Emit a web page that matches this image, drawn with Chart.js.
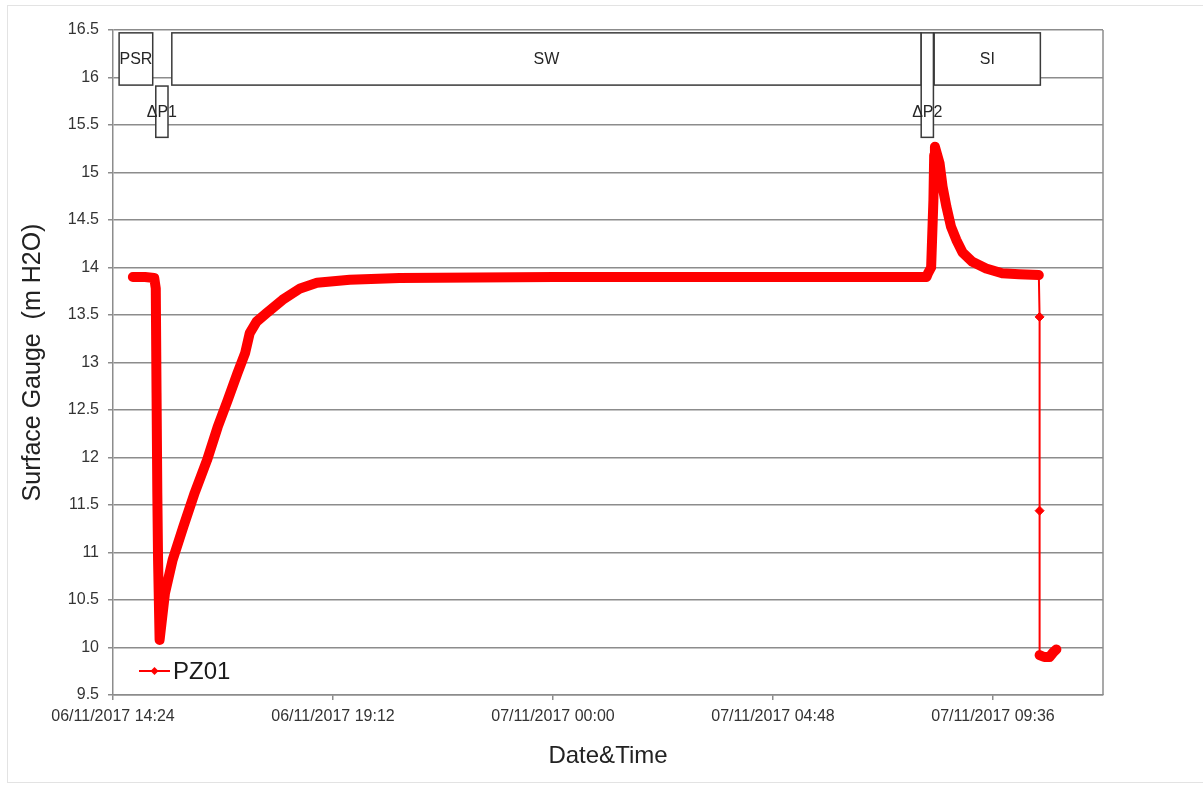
<!DOCTYPE html>
<html>
<head>
<meta charset="utf-8">
<title>PZ01 Surface Gauge</title>
<script src="https://cdn.jsdelivr.net/npm/chart.js@4.4.1/dist/chart.umd.min.js"></script>
<style>
    html, body { margin: 0; padding: 0; background: #fff; overflow: hidden; }
    #wrap { position: relative; width: 1203px; height: 785px; overflow: hidden; }
    #frame { position: absolute; left: 7px; top: 5px; right: -6px; bottom: 2px; border: 1px solid #e3e3e3; }
    #wrap canvas { position: relative; }
</style>
</head>
<body>
<div id="wrap">
    <div id="frame"></div>
    <canvas id="gaugeChart"></canvas>
</div>
<script>
// Lecturas del sensor PZ01
const times = [
    '06/11/2017 14:50', '06/11/2017 15:06', '06/11/2017 15:18', '06/11/2017 15:20',
    '06/11/2017 15:21', '06/11/2017 15:22', '06/11/2017 15:23', '06/11/2017 15:25',
    '06/11/2017 15:32', '06/11/2017 15:42', '06/11/2017 15:56', '06/11/2017 16:11',
    '06/11/2017 16:27', '06/11/2017 16:41', '06/11/2017 16:54', '06/11/2017 17:07',
    '06/11/2017 17:17', '06/11/2017 17:23', '06/11/2017 17:32', '06/11/2017 17:45',
    '06/11/2017 18:06', '06/11/2017 18:29', '06/11/2017 18:51', '06/11/2017 19:34',
    '06/11/2017 20:39', '07/11/2017 00:02', '07/11/2017 04:47', '07/11/2017 08:09',
    '07/11/2017 08:11', '07/11/2017 08:15', '07/11/2017 08:18', '07/11/2017 08:19',
    '07/11/2017 08:20', '07/11/2017 08:26', '07/11/2017 08:30', '07/11/2017 08:35',
    '07/11/2017 08:41', '07/11/2017 08:48', '07/11/2017 08:56', '07/11/2017 09:09',
    '07/11/2017 09:27', '07/11/2017 09:48', '07/11/2017 10:10', '07/11/2017 10:36',
    '07/11/2017 10:37', '07/11/2017 10:37', '07/11/2017 10:37', '07/11/2017 10:43',
    '07/11/2017 10:50', '07/11/2017 10:55', '07/11/2017 10:59'
];
const pz01 = [
    13.90, 13.90, 13.89, 13.78,
    12.68, 11.63, 10.92, 10.08,
    10.57, 10.92, 11.27, 11.63,
    11.97, 12.32, 12.60, 12.89,
    13.10, 13.31, 13.43, 13.52,
    13.66, 13.78, 13.84, 13.87,
    13.89, 13.90, 13.90, 13.90,
    13.94, 14.00, 14.71, 15.18,
    15.27, 15.10, 14.85, 14.64,
    14.43, 14.29, 14.16, 14.06,
    13.99, 13.94, 13.93, 13.92,
    13.48, 11.44, 9.92, 9.90,
    9.90, 9.95, 9.98
];

// Fases del ensayo (cajas superiores)
const phaseLabels = ['PSR', 'ΔP1', 'SW', 'ΔP2', 'SI'];
const phaseStart = ['06/11/2017 14:32', '06/11/2017 15:20', '06/11/2017 15:41', '07/11/2017 08:02', '07/11/2017 08:19'];
const phaseEnd = ['06/11/2017 15:16', '06/11/2017 15:36', '07/11/2017 08:02', '07/11/2017 08:18', '07/11/2017 10:38'];
const phaseTop = [16.47, 15.91, 16.47, 16.47, 16.47];
const phaseBottom = [15.92, 15.37, 15.92, 15.37, 15.92];

const yTicks = { min: 9.5, max: 16.5, step: 0.5 };
const xTicks = { min: '06/11/2017 14:24', max: '07/11/2017 12:00', step: 288 }; // 4h48

const FONT = "'Liberation Sans', Arial, sans-serif";
const THIN_FROM = 43;
const THIN_TO = 46;

function toMinutes(s) {
    const [d, t] = s.split(' ');
    const day = parseInt(d.split('/')[0], 10);
    const [h, m] = t.split(':').map(Number);
    return (day - 6) * 1440 + h * 60 + m;
}

function fmtTime(v) {
    const day = 6 + Math.floor(v / 1440);
    const rest = v - (day - 6) * 1440;
    const h = Math.floor(rest / 60);
    const m = Math.round(rest % 60);
    const p = n => String(n).padStart(2, '0');
    return p(day) + '/11/2017 ' + p(h) + ':' + p(m);
}

const points = times.map((t, i) => ({ x: toMinutes(t), y: pz01[i] }));

const phaseBoxes = {
    id: 'phaseBoxes',
    afterDatasetsDraw(chart) {
        const { ctx, scales: { x, y }, chartArea } = chart;
        ctx.save();
        // borde derecho del área
        ctx.strokeStyle = '#8c8c8c';
        ctx.lineWidth = 1.5;
        ctx.beginPath();
        ctx.moveTo(chartArea.right, chartArea.top);
        ctx.lineTo(chartArea.right, chartArea.bottom);
        ctx.stroke();

        const boxes = phaseLabels.map((label, i) => {
            const tall = phaseTop[i] - phaseBottom[i] > 0.8;
            return {
                label,
                x0: x.getPixelForValue(toMinutes(phaseStart[i])),
                x1: x.getPixelForValue(toMinutes(phaseEnd[i])),
                y0: y.getPixelForValue(phaseTop[i]),
                y1: y.getPixelForValue(phaseBottom[i]),
                // las cajas altas llevan la etiqueta en la fila inferior
                ty: y.getPixelForValue(tall ? (phaseBottom[i] + phaseBottom[0]) / 2 : (phaseTop[i] + phaseBottom[i]) / 2)
            };
        });
        boxes.forEach(b => {
            ctx.fillStyle = '#fff';
            ctx.fillRect(b.x0, b.y0, b.x1 - b.x0, b.y1 - b.y0);
            ctx.strokeStyle = '#3a3a3a';
            ctx.lineWidth = 1.5;
            ctx.strokeRect(b.x0, b.y0, b.x1 - b.x0, b.y1 - b.y0);
        });
        ctx.font = '16px ' + FONT;
        ctx.textAlign = 'center';
        ctx.textBaseline = 'middle';
        ctx.fillStyle = '#262626';
        boxes.forEach(b => ctx.fillText(b.label, (b.x0 + b.x1) / 2, b.ty + 1));

        // leyenda dentro del gráfico
        const lx = chartArea.left + 26;
        const ly = chartArea.bottom - 24;
        ctx.strokeStyle = '#ff0000';
        ctx.fillStyle = '#ff0000';
        ctx.lineWidth = 2;
        ctx.beginPath();
        ctx.moveTo(lx, ly);
        ctx.lineTo(lx + 31, ly);
        ctx.stroke();
        ctx.beginPath();
        ctx.moveTo(lx + 15.5, ly - 4);
        ctx.lineTo(lx + 19.5, ly);
        ctx.lineTo(lx + 15.5, ly + 4);
        ctx.lineTo(lx + 11.5, ly);
        ctx.closePath();
        ctx.fill();
        ctx.fillStyle = '#1a1a1a';
        ctx.font = '24px ' + FONT;
        ctx.textAlign = 'left';
        ctx.fillText('PZ01', lx + 34, ly + 1);
        ctx.restore();
    }
};

const isThin = i => i >= THIN_FROM && i < THIN_TO;

new Chart(document.getElementById('gaugeChart').getContext('2d'), {
    type: 'line',
    data: {
        datasets: [{
            label: 'PZ01',
            data: points,
            borderColor: '#ff0000',
            backgroundColor: '#ff0000',
            borderWidth: 10,
            borderCapStyle: 'round',
            borderJoinStyle: 'round',
            tension: 0,
            pointStyle: 'rectRot',
            pointRadius: ctx => (ctx.dataIndex > THIN_FROM && ctx.dataIndex < THIN_TO) ? 4.5 : 0,
            pointBorderWidth: 1,
            pointBackgroundColor: '#ff0000',
            pointBorderColor: '#ff0000',
            segment: {
                borderWidth: ctx => isThin(ctx.p0DataIndex) ? 2 : 10
            }
        }]
    },
    options: {
        responsive: true,
        maintainAspectRatio: false,
        animation: false,
        layout: { padding: { top: 30, right: 100, bottom: 0, left: 0 } },
        plugins: {
            legend: { display: false },
            tooltip: { enabled: false }
        },
        scales: {
            x: {
                type: 'linear',
                min: toMinutes(xTicks.min),
                max: toMinutes(xTicks.max),
                afterFit: scale => { scale.height = 90; },
                grid: { drawOnChartArea: false, drawTicks: true, tickLength: 5, color: '#8c8c8c', lineWidth: 1.5 },
                border: { color: '#8c8c8c', width: 1.5 },
                ticks: {
                    stepSize: xTicks.step,
                    includeBounds: false,
                    maxRotation: 0,
                    autoSkip: false,
                    padding: 7,
                    color: '#333',
                    font: { family: FONT, size: 16 },
                    callback: v => fmtTime(v)
                },
                title: {
                    display: true,
                    text: 'Date&Time',
                    color: '#222',
                    font: { family: FONT, size: 24 },
                    padding: { top: 0, bottom: 14 }
                }
            },
            y: {
                min: yTicks.min,
                max: yTicks.max,
                afterFit: scale => { scale.width = 113; },
                grid: { drawTicks: true, tickLength: 5, color: '#8c8c8c', lineWidth: 1.5 },
                border: { color: '#8c8c8c', width: 1.5 },
                ticks: {
                    stepSize: yTicks.step,
                    padding: 9,
                    color: '#333',
                    font: { family: FONT, size: 16 },
                    callback: v => String(Math.round(v * 10) / 10)
                },
                title: {
                    display: true,
                    text: 'Surface Gauge  (m H2O)',
                    color: '#222',
                    font: { family: FONT, size: 25 },
                    padding: { top: 18, bottom: 0 }
                }
            }
        }
    },
    plugins: [phaseBoxes]
});
</script>
</body>
</html>
